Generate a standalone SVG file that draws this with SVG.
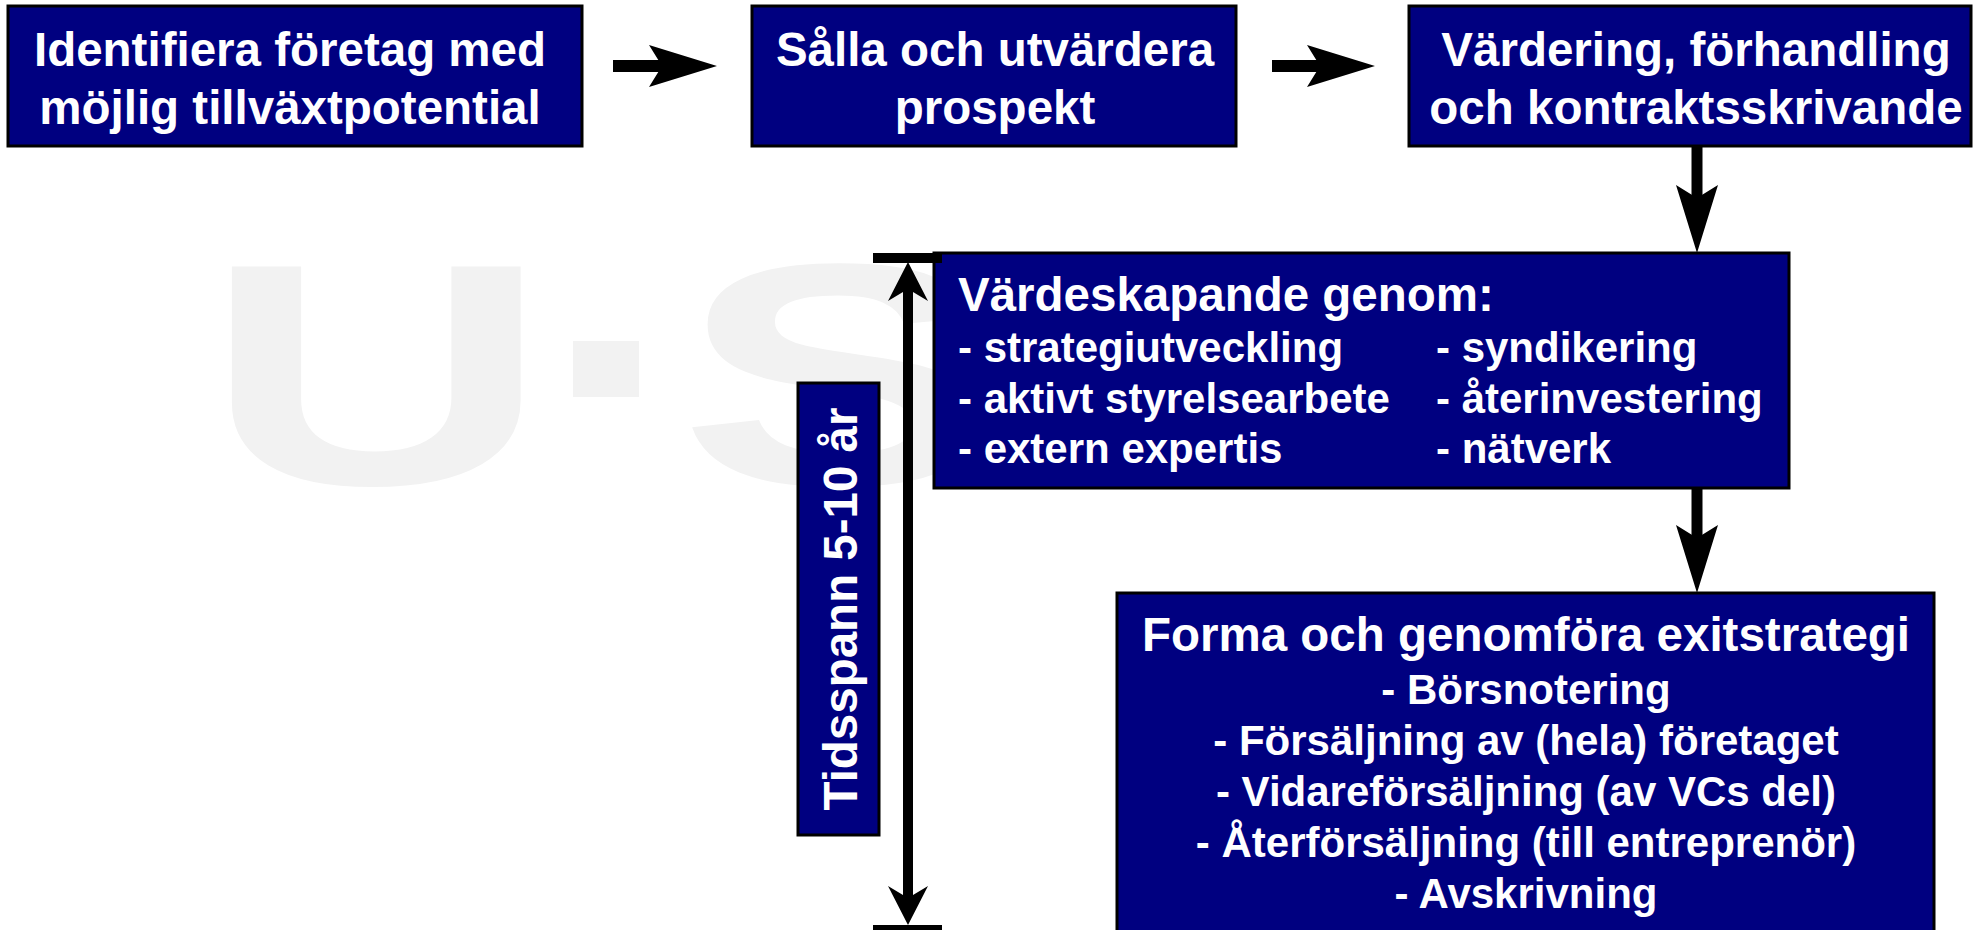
<svg xmlns="http://www.w3.org/2000/svg" xmlns:xlink="http://www.w3.org/1999/xlink" width="1985" height="930" viewBox="0 0 1985 930">
  <style>
    .box { fill: #000080; stroke: #000000; stroke-width: 3; }
    .t { font-family: "Liberation Sans", Arial, sans-serif; font-weight: bold; fill: #ffffff; }
    .big { font-size: 47.5px; }
    .small { font-size: 42px; }
    .mid { text-anchor: middle; }
    .wm { font-family: "Liberation Sans", Arial, sans-serif; font-weight: bold; font-size: 316px; fill: #f2f2f2; }
    .shaft { stroke: #000000; fill: none; }
    .head { fill: #000000; }
  </style>
  <defs>
    <path id="headA" d="M0,0 L-68,-21 L-55,0 L-68,21 Z"/>
    <path id="headB" d="M0,0 L-39,-20 L-27,0 L-39,20 Z"/>
  </defs>

  <rect width="1985" height="930" fill="#ffffff"/>

  <g id="watermark">
    <text class="wm" transform="translate(238,484) scale(1.52,1)" x="-23">U</text>
    <rect x="573" y="341" width="66" height="56" fill="#f2f2f2"/>
    <text class="wm" transform="translate(695,484) scale(1.52,1)" x="-11">S</text>
  </g>

  <g id="node-identifiera">
    <rect class="box" x="8" y="6" width="574" height="140"/>
    <text class="t big mid" x="290" y="66">Identifiera företag med</text>
    <text class="t big mid" x="290" y="124">möjlig tillväxtpotential</text>
  </g>

  <g id="node-salla">
    <rect class="box" x="752" y="6" width="484" height="140"/>
    <text class="t big mid" x="995" y="66">Sålla och utvärdera</text>
    <text class="t big mid" x="995" y="124">prospekt</text>
  </g>

  <g id="node-vardering">
    <rect class="box" x="1409" y="6" width="562" height="140"/>
    <text class="t big mid" x="1696" y="66">Värdering, förhandling</text>
    <text class="t big mid" x="1696" y="124">och kontraktsskrivande</text>
  </g>

  <g id="node-vardeskapande">
    <rect class="box" x="934" y="253" width="855" height="235"/>
    <text class="t big" x="958" y="311">Värdeskapande genom:</text>
    <text class="t small" x="958" y="362">- strategiutveckling</text>
    <text class="t small" x="958" y="413">- aktivt styrelsearbete</text>
    <text class="t small" x="958" y="463">- extern expertis</text>
    <text class="t small" x="1436" y="362">- syndikering</text>
    <text class="t small" x="1436" y="413">- återinvestering</text>
    <text class="t small" x="1436" y="463">- nätverk</text>
  </g>

  <g id="node-exit">
    <rect class="box" x="1117" y="593" width="817" height="345"/>
    <text class="t big mid" x="1526" y="651">Forma och genomföra exitstrategi</text>
    <text class="t small mid" x="1526" y="704">- Börsnotering</text>
    <text class="t small mid" x="1526" y="755">- Försäljning av (hela) företaget</text>
    <text class="t small mid" x="1526" y="806">- Vidareförsäljning (av VCs del)</text>
    <text class="t small mid" x="1526" y="857">- Återförsäljning (till entreprenör)</text>
    <text class="t small mid" x="1526" y="908">- Avskrivning</text>
  </g>

  <g id="node-tidsspann">
    <rect class="box" x="798" y="383" width="81" height="452"/>
    <text class="t big mid" transform="translate(857,609) rotate(-90)">Tidsspann 5-10 år</text>
  </g>

  <g id="connectors">
    <line class="shaft" x1="613" y1="66" x2="664" y2="66" stroke-width="12"/>
    <use xlink:href="#headA" class="head" transform="translate(717,66)"/>

    <line class="shaft" x1="1272" y1="66" x2="1322" y2="66" stroke-width="12"/>
    <use xlink:href="#headA" class="head" transform="translate(1375,66)"/>

    <line class="shaft" x1="1697" y1="146" x2="1697" y2="200" stroke-width="11"/>
    <use xlink:href="#headA" class="head" transform="translate(1697,253) rotate(90)"/>

    <line class="shaft" x1="1697" y1="488" x2="1697" y2="542" stroke-width="11"/>
    <use xlink:href="#headA" class="head" transform="translate(1697,593) rotate(90)"/>

    <rect x="873" y="253" width="69" height="10" fill="#000000"/>
    <rect x="873" y="925" width="69" height="10" fill="#000000"/>
    <line class="shaft" x1="908" y1="285" x2="908" y2="903" stroke-width="10"/>
    <use xlink:href="#headB" class="head" transform="translate(908,262) rotate(-90)"/>
    <use xlink:href="#headB" class="head" transform="translate(908,925) rotate(90)"/>
  </g>
</svg>
